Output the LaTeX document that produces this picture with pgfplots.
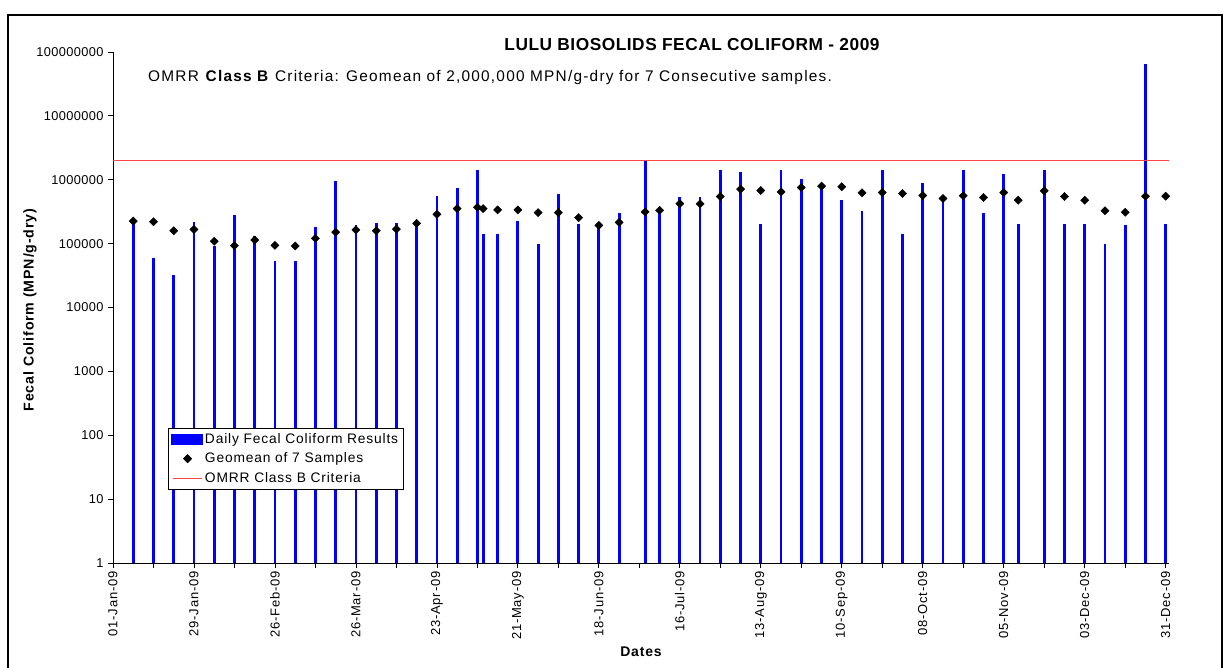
\documentclass[border=0pt]{standalone}
\usepackage{fontspec}
\setmainfont{Liberation Sans}
\newfontfamily\xls[LetterSpace=6]{Liberation Sans}
\newfontfamily\xlw[LetterSpace=8]{Liberation Sans}
\newfontfamily\xlt[LetterSpace=3]{Liberation Sans}
\usepackage{pgfplots}
\pgfplotsset{compat=1.18}

\definecolor{critred}{RGB}{255,70,70}

\begin{document}
\begin{tikzpicture}[x=1pt,y=1pt]
\useasboundingbox (0,0) rectangle (1226,667);
% outer chart frame
\draw[line width=1.6pt] (8,-5) -- (8,652) -- (1222,652) -- (1222,-5);

\begin{axis}[
  at={(113pt,104pt)}, anchor=south west,
  scale only axis, width=1055.6pt, height=511pt,
  xmin=0, xmax=365,
  ymode=log, ymin=1, ymax=1e8,
  axis x line*=bottom, axis y line*=left,
  axis line style={line width=0.8pt},
  tick align=outside, major tick length=5pt, minor tick length=5pt,
  tick style={black, line width=0.8pt},
  xtick={0,28,...,364}, minor xtick={14,42,...,350},
  xticklabels={01-Jan-09,29-Jan-09,26-Feb-09,26-Mar-09,23-Apr-09,21-May-09,18-Jun-09,16-Jul-09,13-Aug-09,10-Sep-09,08-Oct-09,05-Nov-09,03-Dec-09,31-Dec-09},
  xticklabel style={rotate=90, anchor=east, font=\xls\fontsize{13}{15}\selectfont},
  ytick={1,10,100,1000,10000,100000,1000000,10000000,100000000},
  yticklabels={1,10,100,1000,10000,100000,1000000,10000000,100000000},
  yminorticks=false,
  yticklabel style={font=\xlt\fontsize{12.8}{14}\selectfont, xshift=-1pt},
  legend style={at={(0.052,0.264)}, anchor=north west, draw=black, line width=0.6pt,
    font=\xls\fontsize{13.8}{16}\selectfont, row sep=4pt, inner xsep=3pt, inner ysep=3pt},
  legend cell align=left,
  clip=false,
]
% daily results
\addplot[ycomb, blue, line width=2.8pt,
  legend image code/.code={\fill[blue] (0pt,-4pt) rectangle (29pt,4pt);}]
coordinates {
  (7,220000) (14,60000) (21,32000) (28,215000) (35,91000) (42,284000)
  (49,131000) (56,53000) (63,53000) (70,185000) (77,970000) (84,193000)
  (91,212000) (98,212000) (105,200000) (112,560000) (119,740000) (126,1440000)
  (128,142000) (133,142000) (140,225000) (147,100000) (154,594000) (161,202000)
  (168,184000) (175,305000) (184,1940000) (189,320000) (196,533000) (203,533000)
  (210,1440000) (217,1320000) (224,202000) (231,1440000) (238,1020000) (245,767000)
  (252,479000) (259,328000) (266,1440000) (273,142000) (280,886000) (287,484000)
  (294,1440000) (301,305000) (308,1230000) (313,205000) (322,1420000) (329,205000)
  (336,205000) (343,100000) (350,193000) (357,65000000) (364,205000)
};
\addlegendentry{Daily Fecal Coliform Results}
% 7-sample geomean
\addplot[only marks, mark=square*, mark size=2.9pt, black,
  mark options={fill=black, rotate=45},
  legend image code/.code={\draw[black] plot[only marks, mark=square*, mark size=2.9pt, mark options={fill=black, rotate=45}] coordinates {(15pt,0pt)};}]
coordinates {
  (7,225000) (14,220000) (21,159000) (28,167000) (35,109000) (42,93000)
  (49,114000) (56,94000) (63,92000) (70,121000) (77,151000) (84,164000)
  (91,159000) (98,169000) (105,207000) (112,288000) (119,353000) (126,371000)
  (128,353000) (133,337000) (140,337000) (147,305000) (154,305000) (161,255000)
  (168,193000) (175,215000) (184,313000) (189,332000) (196,423000) (203,420000)
  (210,546000) (217,713000) (224,679000) (231,647000) (238,757000) (245,795000)
  (252,776000) (259,624000) (266,631000) (273,608000) (280,566000) (287,508000)
  (294,560000) (301,527000) (308,631000) (313,479000) (322,670000) (329,546000)
  (336,479000) (343,328000) (350,309000) (357,553000) (364,553000)
};
\addlegendentry{Geomean of 7 Samples}
% criteria line
\addplot[critred, line width=1pt,
  legend image code/.code={\draw[critred, line width=0.8pt] (0pt,0pt) -- (29pt,0pt);}]
  coordinates {(0,2000000) (365,2000000)};
\addlegendentry{OMRR Class B Criteria}
\end{axis}

\node[font=\xlt\fontsize{17.3}{19}\selectfont\bfseries] at (692,622) {LULU BIOSOLIDS FECAL COLIFORM - 2009};
\node[anchor=west, inner sep=0pt, font=\xlw\fontsize{15.4}{17}\selectfont] at (148,589)
  {OMRR \textbf{Class B} Criteria: Geomean of 2,000,000 MPN/g-dry for 7 Consecutive samples.};
\node[rotate=90, font=\xls\fontsize{14.2}{15}\selectfont\bfseries] at (30,357) {Fecal Coliform (MPN/g-dry)};
\node[font=\xls\fontsize{14}{15}\selectfont\bfseries] at (641,15) {Dates};
\end{tikzpicture}
\end{document}
